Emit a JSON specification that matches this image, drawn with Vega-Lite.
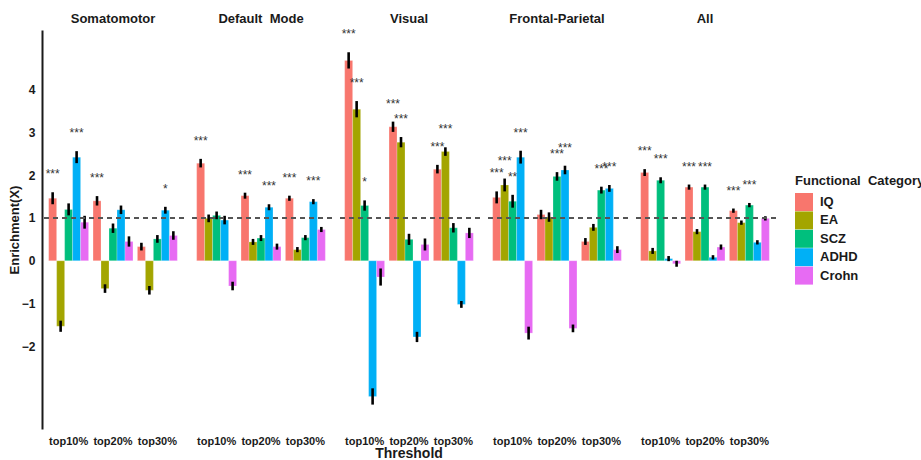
{
  "$schema": "https://vega.github.io/schema/vega-lite/v6.json",
  "background": "white",
  "padding": {"left": 8, "top": 13, "right": 0, "bottom": 0},
  "bounds": "flush",
  "data": {
    "values": [
      {"network": "Somatomotor", "threshold": "top10%", "trait": "IQ", "value": 1.46, "err": 0.14, "sig": "***"},
      {"network": "Somatomotor", "threshold": "top10%", "trait": "EA", "value": -1.53, "err": 0.13, "sig": ""},
      {"network": "Somatomotor", "threshold": "top10%", "trait": "SCZ", "value": 1.2, "err": 0.14, "sig": ""},
      {"network": "Somatomotor", "threshold": "top10%", "trait": "ADHD", "value": 2.42, "err": 0.14, "sig": "***"},
      {"network": "Somatomotor", "threshold": "top10%", "trait": "Crohn", "value": 0.9, "err": 0.15, "sig": ""},
      {"network": "Somatomotor", "threshold": "top20%", "trait": "IQ", "value": 1.4, "err": 0.11, "sig": "***"},
      {"network": "Somatomotor", "threshold": "top20%", "trait": "EA", "value": -0.65, "err": 0.1, "sig": ""},
      {"network": "Somatomotor", "threshold": "top20%", "trait": "SCZ", "value": 0.76, "err": 0.11, "sig": ""},
      {"network": "Somatomotor", "threshold": "top20%", "trait": "ADHD", "value": 1.19, "err": 0.1, "sig": ""},
      {"network": "Somatomotor", "threshold": "top20%", "trait": "Crohn", "value": 0.45, "err": 0.12, "sig": ""},
      {"network": "Somatomotor", "threshold": "top30%", "trait": "IQ", "value": 0.33, "err": 0.09, "sig": ""},
      {"network": "Somatomotor", "threshold": "top30%", "trait": "EA", "value": -0.69, "err": 0.1, "sig": ""},
      {"network": "Somatomotor", "threshold": "top30%", "trait": "SCZ", "value": 0.51, "err": 0.09, "sig": ""},
      {"network": "Somatomotor", "threshold": "top30%", "trait": "ADHD", "value": 1.18, "err": 0.08, "sig": "*"},
      {"network": "Somatomotor", "threshold": "top30%", "trait": "Crohn", "value": 0.59, "err": 0.1, "sig": ""},

      {"network": "Default Mode", "threshold": "top10%", "trait": "IQ", "value": 2.28, "err": 0.1, "sig": "***"},
      {"network": "Default Mode", "threshold": "top10%", "trait": "EA", "value": 0.99, "err": 0.09, "sig": ""},
      {"network": "Default Mode", "threshold": "top10%", "trait": "SCZ", "value": 1.06, "err": 0.09, "sig": ""},
      {"network": "Default Mode", "threshold": "top10%", "trait": "ADHD", "value": 0.95, "err": 0.1, "sig": ""},
      {"network": "Default Mode", "threshold": "top10%", "trait": "Crohn", "value": -0.59, "err": 0.1, "sig": ""},
      {"network": "Default Mode", "threshold": "top20%", "trait": "IQ", "value": 1.52, "err": 0.07, "sig": "***"},
      {"network": "Default Mode", "threshold": "top20%", "trait": "EA", "value": 0.44, "err": 0.07, "sig": ""},
      {"network": "Default Mode", "threshold": "top20%", "trait": "SCZ", "value": 0.53, "err": 0.07, "sig": ""},
      {"network": "Default Mode", "threshold": "top20%", "trait": "ADHD", "value": 1.25, "err": 0.07, "sig": "***"},
      {"network": "Default Mode", "threshold": "top20%", "trait": "Crohn", "value": 0.33, "err": 0.07, "sig": ""},
      {"network": "Default Mode", "threshold": "top30%", "trait": "IQ", "value": 1.46, "err": 0.06, "sig": "***"},
      {"network": "Default Mode", "threshold": "top30%", "trait": "EA", "value": 0.26, "err": 0.06, "sig": ""},
      {"network": "Default Mode", "threshold": "top30%", "trait": "SCZ", "value": 0.54, "err": 0.06, "sig": ""},
      {"network": "Default Mode", "threshold": "top30%", "trait": "ADHD", "value": 1.38, "err": 0.06, "sig": "***"},
      {"network": "Default Mode", "threshold": "top30%", "trait": "Crohn", "value": 0.73, "err": 0.06, "sig": ""},

      {"network": "Visual", "threshold": "top10%", "trait": "IQ", "value": 4.68, "err": 0.19, "sig": "***"},
      {"network": "Visual", "threshold": "top10%", "trait": "EA", "value": 3.54, "err": 0.19, "sig": "***"},
      {"network": "Visual", "threshold": "top10%", "trait": "SCZ", "value": 1.29, "err": 0.12, "sig": "*"},
      {"network": "Visual", "threshold": "top10%", "trait": "ADHD", "value": -3.17, "err": 0.19, "sig": ""},
      {"network": "Visual", "threshold": "top10%", "trait": "Crohn", "value": -0.38, "err": 0.2, "sig": ""},
      {"network": "Visual", "threshold": "top20%", "trait": "IQ", "value": 3.13, "err": 0.12, "sig": "***"},
      {"network": "Visual", "threshold": "top20%", "trait": "EA", "value": 2.77, "err": 0.12, "sig": "***"},
      {"network": "Visual", "threshold": "top20%", "trait": "SCZ", "value": 0.5, "err": 0.13, "sig": ""},
      {"network": "Visual", "threshold": "top20%", "trait": "ADHD", "value": -1.78, "err": 0.12, "sig": ""},
      {"network": "Visual", "threshold": "top20%", "trait": "Crohn", "value": 0.38, "err": 0.14, "sig": ""},
      {"network": "Visual", "threshold": "top30%", "trait": "IQ", "value": 2.14, "err": 0.1, "sig": "***"},
      {"network": "Visual", "threshold": "top30%", "trait": "EA", "value": 2.55, "err": 0.1, "sig": "***"},
      {"network": "Visual", "threshold": "top30%", "trait": "SCZ", "value": 0.77, "err": 0.11, "sig": ""},
      {"network": "Visual", "threshold": "top30%", "trait": "ADHD", "value": -1.02, "err": 0.08, "sig": ""},
      {"network": "Visual", "threshold": "top30%", "trait": "Crohn", "value": 0.65, "err": 0.12, "sig": ""},

      {"network": "Frontal-Parietal", "threshold": "top10%", "trait": "IQ", "value": 1.48, "err": 0.14, "sig": "***"},
      {"network": "Frontal-Parietal", "threshold": "top10%", "trait": "EA", "value": 1.77, "err": 0.15, "sig": "***"},
      {"network": "Frontal-Parietal", "threshold": "top10%", "trait": "SCZ", "value": 1.39, "err": 0.15, "sig": "**"},
      {"network": "Frontal-Parietal", "threshold": "top10%", "trait": "ADHD", "value": 2.42, "err": 0.15, "sig": "***"},
      {"network": "Frontal-Parietal", "threshold": "top10%", "trait": "Crohn", "value": -1.69, "err": 0.15, "sig": ""},
      {"network": "Frontal-Parietal", "threshold": "top20%", "trait": "IQ", "value": 1.08, "err": 0.11, "sig": ""},
      {"network": "Frontal-Parietal", "threshold": "top20%", "trait": "EA", "value": 1.02, "err": 0.11, "sig": ""},
      {"network": "Frontal-Parietal", "threshold": "top20%", "trait": "SCZ", "value": 1.97, "err": 0.1, "sig": "***"},
      {"network": "Frontal-Parietal", "threshold": "top20%", "trait": "ADHD", "value": 2.12, "err": 0.1, "sig": "***"},
      {"network": "Frontal-Parietal", "threshold": "top20%", "trait": "Crohn", "value": -1.58, "err": 0.09, "sig": ""},
      {"network": "Frontal-Parietal", "threshold": "top30%", "trait": "IQ", "value": 0.45, "err": 0.08, "sig": ""},
      {"network": "Frontal-Parietal", "threshold": "top30%", "trait": "EA", "value": 0.78, "err": 0.08, "sig": ""},
      {"network": "Frontal-Parietal", "threshold": "top30%", "trait": "SCZ", "value": 1.65, "err": 0.08, "sig": "***"},
      {"network": "Frontal-Parietal", "threshold": "top30%", "trait": "ADHD", "value": 1.69, "err": 0.08, "sig": "***"},
      {"network": "Frontal-Parietal", "threshold": "top30%", "trait": "Crohn", "value": 0.26, "err": 0.08, "sig": ""},

      {"network": "All", "threshold": "top10%", "trait": "IQ", "value": 2.06, "err": 0.08, "sig": "***"},
      {"network": "All", "threshold": "top10%", "trait": "EA", "value": 0.23, "err": 0.07, "sig": ""},
      {"network": "All", "threshold": "top10%", "trait": "SCZ", "value": 1.88, "err": 0.07, "sig": "***"},
      {"network": "All", "threshold": "top10%", "trait": "ADHD", "value": 0.05, "err": 0.06, "sig": ""},
      {"network": "All", "threshold": "top10%", "trait": "Crohn", "value": -0.07, "err": 0.07, "sig": ""},
      {"network": "All", "threshold": "top20%", "trait": "IQ", "value": 1.72, "err": 0.06, "sig": "***"},
      {"network": "All", "threshold": "top20%", "trait": "EA", "value": 0.68, "err": 0.06, "sig": ""},
      {"network": "All", "threshold": "top20%", "trait": "SCZ", "value": 1.72, "err": 0.06, "sig": "***"},
      {"network": "All", "threshold": "top20%", "trait": "ADHD", "value": 0.08, "err": 0.05, "sig": ""},
      {"network": "All", "threshold": "top20%", "trait": "Crohn", "value": 0.32, "err": 0.06, "sig": ""},
      {"network": "All", "threshold": "top30%", "trait": "IQ", "value": 1.17, "err": 0.05, "sig": "***"},
      {"network": "All", "threshold": "top30%", "trait": "EA", "value": 0.89, "err": 0.05, "sig": ""},
      {"network": "All", "threshold": "top30%", "trait": "SCZ", "value": 1.3, "err": 0.05, "sig": "***"},
      {"network": "All", "threshold": "top30%", "trait": "ADHD", "value": 0.43, "err": 0.05, "sig": ""},
      {"network": "All", "threshold": "top30%", "trait": "Crohn", "value": 0.99, "err": 0.05, "sig": ""}
    ]
  },
  "transform": [
    {"calculate": "datum.value - datum.err", "as": "lo"},
    {"calculate": "datum.value + datum.err", "as": "hi"}
  ],
  "facet": {
    "column": {
      "field": "network",
      "type": "nominal",
      "sort": ["Somatomotor", "Default Mode", "Visual", "Frontal-Parietal", "All"],
      "title": "Threshold",
      "header": {
        "labelOrient": "top",
        "titleOrient": "bottom",
        "labelExpr": "datum.value === 'Default Mode' ? 'Default\u00a0 Mode' : datum.value",
        "labelFont": "Liberation Sans",
        "labelFontSize": 13,
        "labelFontWeight": "bold",
        "labelColor": "#1a1a1a",
        "labelPadding": 4,
        "titleFont": "Liberation Sans",
        "titleFontSize": 14,
        "titleFontWeight": "bold",
        "titleColor": "#1a1a1a",
        "titleBaseline": "alphabetic",
        "titlePadding": 2
      }
    }
  },
  "spacing": 6,
  "spec": {
    "width": 142,
    "height": 399,
    "layer": [
      {
        "mark": {"type": "bar", "stroke": "white", "strokeWidth": 0.4, "strokeOpacity": 0.6},
        "encoding": {
          "x": {
            "field": "threshold",
            "type": "nominal",
            "scale": {"paddingInner": 0.1, "paddingOuter": 0.15},
            "axis": {
              "title": null,
              "labelAngle": 0,
              "domain": false,
              "ticks": false,
              "labelPadding": 6,
              "labelFont": "Liberation Sans",
              "labelFontSize": 11,
              "labelFontWeight": "bold",
              "labelColor": "#1a1a1a"
            }
          },
          "xOffset": {
            "field": "trait",
            "type": "nominal",
            "sort": ["IQ", "EA", "SCZ", "ADHD", "Crohn"],
            "scale": {"paddingInner": 0, "paddingOuter": 0}
          },
          "y": {
            "field": "value",
            "type": "quantitative",
            "scale": {"domain": [-3.93, 5.39], "nice": false, "zero": false},
            "axis": {
              "title": "Enrichment(X)",
              "values": [-2, -1, 0, 1, 2, 3, 4],
              "grid": false,
              "ticks": false,
              "domain": true,
              "domainColor": "#1a1a1a",
              "domainWidth": 2,
              "labelPadding": 7,
              "labelFont": "Liberation Sans",
              "labelFontSize": 12,
              "labelFontWeight": "bold",
              "labelColor": "#1a1a1a",
              "titleFont": "Liberation Sans",
              "titleFontSize": 13,
              "titleFontWeight": "bold",
              "titleColor": "#1a1a1a",
              "titlePadding": 0
            }
          },
          "color": {
            "field": "trait",
            "type": "nominal",
            "sort": ["IQ", "EA", "SCZ", "ADHD", "Crohn"],
            "scale": {
              "domain": ["IQ", "EA", "SCZ", "ADHD", "Crohn"],
              "range": ["#F8766D", "#A3A500", "#00BF7D", "#00B0F6", "#E76BF3"]
            },
            "legend": {
              "title": "Functional\u00a0 Category",
              "orient": "none",
              "legendX": 753,
              "legendY": 145,
              "symbolType": "square",
              "symbolSize": 324,
              "symbolStrokeWidth": 0,
              "symbolOpacity": 1,
              "rowPadding": 0.4,
              "titleFont": "Liberation Sans",
              "titleFontSize": 13,
              "titleFontWeight": "bold",
              "titleColor": "#1a1a1a",
              "titlePadding": 5,
              "labelFont": "Liberation Sans",
              "labelFontSize": 13,
              "labelFontWeight": "bold",
              "labelColor": "#1a1a1a",
              "labelOffset": 7
            }
          }
        }
      },
      {
        "mark": {"type": "rule", "color": "black", "strokeWidth": 2.6},
        "encoding": {
          "x": {"field": "threshold", "type": "nominal"},
          "xOffset": {"field": "trait", "type": "nominal", "sort": ["IQ", "EA", "SCZ", "ADHD", "Crohn"]},
          "y": {"field": "lo", "type": "quantitative"},
          "y2": {"field": "hi"}
        }
      },
      {
        "mark": {"type": "rule", "color": "#555555", "strokeWidth": 1.3, "strokeDash": [5, 4]},
        "encoding": {"y": {"datum": 1}}
      },
      {
        "transform": [{"filter": "datum.sig !== ''"}],
        "mark": {
          "type": "text",
          "font": "Liberation Sans",
          "fontSize": 12,
          "color": "#333333",
          "baseline": "alphabetic",
          "dy": -14
        },
        "encoding": {
          "x": {"field": "threshold", "type": "nominal"},
          "xOffset": {"field": "trait", "type": "nominal", "sort": ["IQ", "EA", "SCZ", "ADHD", "Crohn"]},
          "y": {"field": "hi", "type": "quantitative"},
          "text": {"field": "sig"}
        }
      }
    ]
  },
  "config": {
    "view": {"stroke": null},
    "font": "Liberation Sans"
  }
}
